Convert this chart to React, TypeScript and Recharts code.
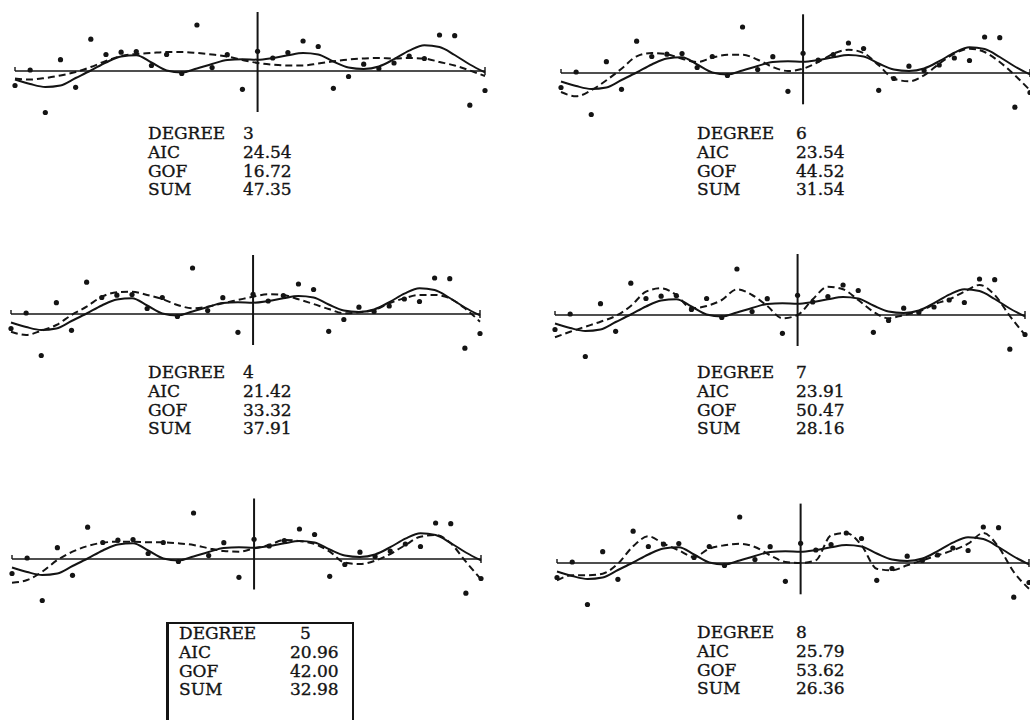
import React from 'react';
import { ComposedChart, Line, Scatter, XAxis, YAxis, ReferenceLine } from 'recharts';

const observed = [-14.5, 1, -41.5, 11.3, -16.3, 31.8, 16.5, 18.8, 19.5, 5.5, 16.5, -2.5, 46, 3.4, 16.3, -18.3,
  19.7, 13, 18.5, 30, 24.5, -17.3, -5.5, 6.8, 2.5, 8, 15, 12.5, 36, 35.3, -34.2, -19.5];

// solid reference curve, identical in all six panels
const smooth = [-8.5, -13, -16, -14.5, -7, 0.5, 8.5, 14.5, 15.7, 8.5, 0.5, -1.5, 2.5, 7, 11, 11.8,
  11.3, 13, 15.7, 18, 16.5, 9.5, 3.5, 2, 4.5, 11.8, 20.3, 25.8, 24, 16, 6.5, -1.5];

// dashed fits, one per degree
const fit3 = [-7.5, -8.5, -7, -4.5, -1, 4, 10, 15, 17, 18, 19, 19, 18, 16.5, 14.5, 11,
  8, 6.3, 5.5, 5.5, 7.5, 9.7, 11.5, 12.5, 13, 12.5, 13, 12.5, 9, 5.5, 0.5, -5];
const fit4 = [-17.7, -21, -16.7, -11, -1, 7.3, 17.3, 21.7, 22.3, 19, 15, 9, 5.7, 7.3, 10.7, 14,
  17.3, 19.7, 19, 14.7, 10, 5, 0.7, 1.7, 4, 10.7, 15.7, 19, 19, 15.7, 5.7, -7.7];
const fit5 = [-23.7, -21, -12.7, -1, 7.3, 13, 16.3, 17.3, 17.3, 16.7, 16.7, 15.7, 14, 10.7, 8, 7.3,
  10.7, 14, 19, 18, 15, 7.3, -3.7, -5, -1.7, 5, 14, 22.3, 24, 15.7, -2.7, -20.3];
const fit6 = [-19, -23.3, -17.3, -7.3, 4.3, 16.7, 20, 18.7, 14.3, 11, 15.3, 18.3, 18.3, 13.3, 6, 2,
  4.3, 11, 19.3, 23.3, 20, 7.7, -5.7, -8.3, -2.3, 9.3, 19.3, 24.3, 21, 11, -2.3, -17.3];
const fit7 = [-22.3, -16.7, -11.7, -6.7, -1, 9, 23.3, 26.7, 20, 6.7, 9, 15, 25.7, 20, 9, -3.3,
  0, 15.7, 28.3, 25.7, 15, 3.3, -3.3, 0, 3.3, 10.7, 15.7, 23.3, 30, 20, -1, -20];
const fit8 = [-17.3, -12.3, -12.3, -10.7, -0.7, 16.7, 26.7, 19.3, 12.7, 6, 14.3, 17.7, 19.3, 16, 7.7, 1,
  0, 2.7, 27.7, 30, 17.7, -5.7, -7.3, -2.3, 2.7, 7.7, 12.7, 19.3, 30, 16, -9, -25.7];

const degrees = ['3', '4', '5', '6', '7', '8'];
const aic = ['24.54', '21.42', '20.96', '23.54', '23.91', '25.79'];
const gof = ['16.72', '33.32', '42.00', '44.52', '50.47', '53.62'];
const sums = ['47.35', '37.91', '32.98', '31.54', '28.16', '26.36'];
const fits = [fit3, fit4, fit5, fit6, fit7, fit8];

const CENTER = 16;
const Y_TOP = 62;
const Y_BOT = -45;

const layout = [
  { left: 15, right: 485, axisY: 71, vTop: 59, vBot: -41, textY: 133, labelX: 148, valueX: 243 },
  { left: 10.5, right: 479.5, axisY: 314, vTop: 59, vBot: -31, textY: 372, labelX: 148, valueX: 243 },
  { left: 12, right: 481, axisY: 559, vTop: 60.5, vBot: -30.5, textY: 633, labelX: 179, valueX: 290, boxed: true },
  { left: 561, right: 1030, axisY: 72.7, vTop: 58.7, vBot: -31.3, textY: 133, labelX: 697, valueX: 796 },
  { left: 555, right: 1025, axisY: 315, vTop: 61, vBot: -31, textY: 372, labelX: 697, valueX: 796 },
  { left: 557, right: 1029, axisY: 563, vTop: 59.4, vBot: -31.3, textY: 632, labelX: 697, valueX: 796 },
];

const ink = '#141414';
const font = '"DejaVu Serif", "Liberation Serif", serif';

const Dot = (p: any) => <circle cx={p.cx} cy={p.cy} r={2.6} fill={ink} />;

function FitPanel({ fit, cfg }: { fit: number[]; cfg: (typeof layout)[number] }) {
  const rows = observed.map((v, i) => ({ t: i, obs: v, smooth: smooth[i], fit: fit[i] }));
  const pad = 8;
  const width = cfg.right - cfg.left + pad * 2;
  const height = Y_TOP - Y_BOT;
  return (
    <div style={{ position: 'absolute', left: cfg.left - pad, top: cfg.axisY - Y_TOP }}>
      <ComposedChart width={width} height={height} data={rows} margin={{ top: 0, right: pad, bottom: 0, left: pad }}>
        <XAxis type="number" dataKey="t" domain={[0, 31]} hide />
        <YAxis type="number" domain={[Y_BOT, Y_TOP]} hide />
        <ReferenceLine segment={[{ x: 0, y: 0 }, { x: 31, y: 0 }]} stroke={ink} strokeWidth={1.6} />
        <ReferenceLine segment={[{ x: 0, y: 0 }, { x: 0, y: 4 }]} stroke={ink} strokeWidth={1.4} />
        <ReferenceLine segment={[{ x: 31, y: -4 }, { x: 31, y: 4 }]} stroke={ink} strokeWidth={1.4} />
        <ReferenceLine segment={[{ x: CENTER, y: cfg.vTop }, { x: CENTER, y: cfg.vBot }]} stroke={ink} strokeWidth={2} />
        <Line type="monotone" dataKey="smooth" stroke={ink} strokeWidth={2} dot={false} isAnimationActive={false} />
        <Line type="monotone" dataKey="fit" stroke={ink} strokeWidth={2} strokeDasharray="7 4" dot={false} isAnimationActive={false} />
        <Scatter dataKey="obs" shape={Dot} isAnimationActive={false} />
      </ComposedChart>
    </div>
  );
}

function Stats({ i, cfg }: { i: number; cfg: (typeof layout)[number] }) {
  const rows: [string, string][] = [['DEGREE', degrees[i]], ['AIC', aic[i]], ['GOF', gof[i]], ['SUM', sums[i]]];
  const pitch = 18.8;
  const text: React.CSSProperties = {
    position: 'absolute', fontSize: 17, lineHeight: '22px', fontFamily: font, color: ink,
    WebkitTextStroke: `0.35px ${ink}`, whiteSpace: 'nowrap',
  };
  return (
    <>
      {cfg.boxed && (
        <div style={{ position: 'absolute', left: 166, top: 622, width: 183, height: 110, border: `2px solid ${ink}`, borderLeftWidth: 3 }} />
      )}
      {rows.map(([k, v], r) => (
        <React.Fragment key={k}>
          <div style={{ ...text, left: cfg.labelX, top: cfg.textY + r * pitch - 11 }}>{k}</div>
          <div style={{ ...text, left: cfg.valueX + (cfg.boxed && r === 0 ? 10 : 0), top: cfg.textY + r * pitch - 11 }}>{v}</div>
        </React.Fragment>
      ))}
    </>
  );
}

export default function App() {
  return (
    <div style={{ position: 'fixed', left: 0, top: 0, width: 1030, height: 720, background: '#fff', overflow: 'hidden' }}>
      {layout.map((cfg, i) => (
        <React.Fragment key={i}>
          <FitPanel fit={fits[i]} cfg={cfg} />
          <Stats i={i} cfg={cfg} />
        </React.Fragment>
      ))}
    </div>
  );
}
